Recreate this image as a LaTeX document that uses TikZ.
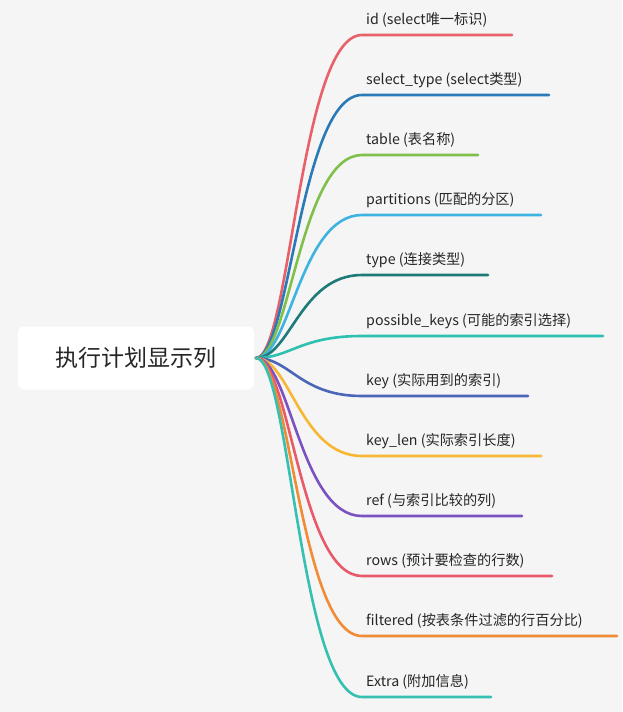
\documentclass[tikz,border=0pt]{standalone}
\usepackage{fontspec}
\setmainfont{Noto Sans CJK SC}
\begin{document}
\begin{tikzpicture}[x=1pt,y=-1pt,
  lbl/.style={anchor=base west,inner sep=0pt,font=\fontsize{14.2}{16}\selectfont,text=black!85},
  br/.style={line width=2.6pt,line cap=round}]
\fill[black!4] (0,0) rectangle (622,712);
\useasboundingbox (0,0) rectangle (622,712);
\node[fill=white,rounded corners=6pt,minimum width=236pt,minimum height=63pt,font=\fontsize{23}{26}\selectfont,text=black!85] (root) at (136,358) {执行计划显示列};
\coordinate (o) at (256,358);
\definecolor{c1}{HTML}{E8606A}\definecolor{c2}{HTML}{2A7AB8}\definecolor{c3}{HTML}{80BF4A}
\definecolor{c4}{HTML}{3FB3E0}\definecolor{c5}{HTML}{1F7A7A}\definecolor{c6}{HTML}{2EC0B0}
\definecolor{c7}{HTML}{4A66B8}\definecolor{c8}{HTML}{F7B733}\definecolor{c9}{HTML}{7B52C2}
\definecolor{c10}{HTML}{E85A6A}\definecolor{c11}{HTML}{F28B36}\definecolor{c12}{HTML}{36C0B0}
\foreach \i/\y/\e/\t in {1/35/512/{id (select唯一标识)},2/95/549/{select\_type (select类型)},3/155/478/{table (表名称)},4/215/541/{partitions (匹配的分区)},5/275/488/{type (连接类型)},6/336/603/{possible\_keys (可能的索引选择)},7/396/528/{key (实际用到的索引)},8/456/541/{key\_len (实际索引长度)},9/516/522/{ref (与索引比较的列)},10/576/552/{rows (预计要检查的行数)},11/636/617/{filtered (按表条件过滤的行百分比)},12/697/491/{Extra (附加信息)}}{
  \node[lbl] (l\i) at (366,\y-11) {\t};
  \coordinate (s\i) at (362,\y);
  \coordinate (f\i) at (\e,\y);
  \draw[br,c\i] (o) .. controls (290,358) and (300,\y) .. (s\i) -- (f\i);
}
\end{tikzpicture}
\end{document}
